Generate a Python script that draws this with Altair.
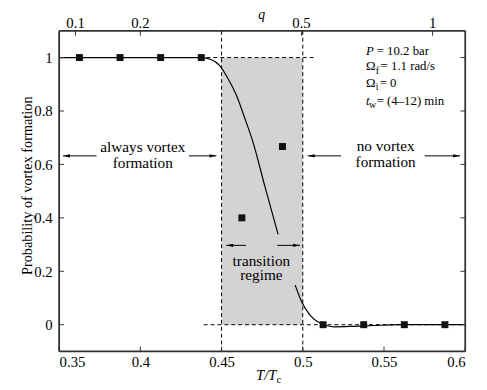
import altair as alt
import pandas as pd

# ---- data ----
t_sq = [0.3625, 0.3875, 0.4125, 0.4375, 0.4625, 0.4875, 0.5125, 0.5375, 0.5625, 0.5875]
p_sq = [1, 1, 1, 1, 0.40, 0.667, 0, 0, 0, 0]

curve_a_t = [0.35, 0.3625, 0.3875, 0.4125, 0.43, 0.4372, 0.4438, 0.4487, 0.4541, 0.4590, 0.4650, 0.4691, 0.4770, 0.4848]
curve_a_p = [1.0, 1.0, 1.0, 1.0, 1.0, 1.0, 0.992, 0.971, 0.920, 0.861, 0.761, 0.688, 0.51, 0.338]
curve_b_t = [0.4953, 0.4993, 0.5043, 0.5103, 0.5195, 0.5316, 0.5437, 0.56, 0.58, 0.6]
curve_b_p = [0.148, 0.086, 0.037, 0.007, -0.008, -0.006, -0.003, 0.0, 0.0, 0.0]

x_ticks = [0.35, 0.4, 0.45, 0.5, 0.55, 0.6]
y_ticks = [0, 0.2, 0.4, 0.6, 0.8, 1]
q_labels = ["0.1", "0.2", "0.5", "1"]
q_pos = [0.3601, 0.4, 0.4992, 0.5799]

band_t = [0.45, 0.5]
band_p = [0, 1]
vdash_t = [0.45, 0.5]
hdash_t1 = [0.4407, 0.439]
hdash_t2 = [0.5078, 0.6]
hdash_p = [1, 0]

arrow_tail = [0.3730, 0.4299, 0.5236, 0.5750, 0.4650, 0.4842]
arrow_tip = [0.3524, 0.4468, 0.5031, 0.5968, 0.4529, 0.4983]
arrow_p = [0.632, 0.632, 0.632, 0.632, 0.297, 0.297]
arrow_dir = ["L", "R", "L", "R", "L", "R"]

note_text = ["always vortex", "formation", "no vortex", "formation", "transition", "regime"]
note_t = [0.4015, 0.4015, 0.5510, 0.5510, 0.4745, 0.4745]
note_p = [0.647, 0.586, 0.651, 0.589, 0.218, 0.166]

leg_main_text = ["P", "Ω", "Ω", "t"]
leg_main_italic = [True, False, False, True]
leg_main_t = [0.5389, 0.5389, 0.5389, 0.5389]
leg_main_p = [1.008, 0.9525, 0.8899, 0.8237]
leg_sub_text = ["f", "i", "w"]
leg_sub_t = [0.5449, 0.5449, 0.5407]
leg_sub_p = [0.9396, 0.8789, 0.8126]
leg_rest_text = ["= 10.2 bar", "= 1.1 rad/s", "= 0", "= (4–12) min"]
leg_rest_t = [0.5455, 0.5479, 0.5473, 0.5455]
leg_rest_p = [1.008, 0.9525, 0.8899, 0.8237]

FONT = "Liberation Serif"
W, H = 413, 326

sx = alt.Scale(domain=[0.35, 0.6], nice=False, zero=False)
sy = alt.Scale(domain=[-0.1, 1.1], nice=False, zero=False)

AX = alt.Axis(values=x_ticks, format=".2~f", labelPadding=3, title=None)
AY = alt.Axis(values=y_ticks, format=".1~f", labelPadding=7,
              title="Probability of vortex formation", titleAngle=270,
              titleX=-28, titleY=157, titleAlign="center", titleBaseline="alphabetic")


def X(f):
    return alt.X(f, type="quantitative", scale=sx, axis=AX)


def Y(f):
    return alt.Y(f, type="quantitative", scale=sy, axis=AY)


sq_df = pd.DataFrame({"t": t_sq, "p": p_sq})
curve_df = pd.concat([
    pd.DataFrame({"t": curve_a_t, "p": curve_a_p, "seg": "a"}),
    pd.DataFrame({"t": curve_b_t, "p": curve_b_p, "seg": "b"}),
])

band = alt.Chart(pd.DataFrame({"t1": [band_t[0]], "t2": [band_t[1]], "p1": [band_p[0]], "p2": [band_p[1]]})).mark_rect(
    color="#d3d3d3").encode(x=X("t1"), x2="t2", y=Y("p1"), y2="p2")

vdash = alt.Chart(pd.DataFrame({"t": vdash_t, "lo": [-0.1, -0.1], "hi": [1.1, 1.1]})).mark_rule(
    color="black", strokeWidth=1, strokeDash=[4, 3]).encode(x=X("t"), y=Y("lo"), y2="hi")

hdash = alt.Chart(pd.DataFrame({"t1": hdash_t1, "t2": hdash_t2, "p": hdash_p})).mark_rule(
    color="black", strokeWidth=1, strokeDash=[4, 3]).encode(x=X("t1"), x2="t2", y=Y("p"))

curve = alt.Chart(curve_df).mark_line(color="black", strokeWidth=1.2, interpolate="monotone").encode(
    x=X("t"), y=Y("p"), detail="seg:N", order="t:Q")

squares = alt.Chart(sq_df).mark_square(color="#111", size=50, opacity=1).encode(x=X("t"), y=Y("p"))

arr_df = pd.DataFrame({"tail": arrow_tail, "tip": arrow_tip, "p": arrow_p, "dir": arrow_dir})
arrow_lines = alt.Chart(arr_df).mark_rule(color="black", strokeWidth=1).encode(x=X("tail"), x2="tip", y=Y("p"))
heads_l = alt.Chart(arr_df[arr_df.dir == "L"]).mark_point(
    shape="M0,0L2,-0.5L2,0.5Z", filled=True, size=49, color="black", opacity=1, strokeWidth=0).encode(
    x=X("tip"), y=Y("p"))
heads_r = alt.Chart(arr_df[arr_df.dir == "R"]).mark_point(
    shape="M0,0L-2,-0.5L-2,0.5Z", filled=True, size=49, color="black", opacity=1, strokeWidth=0).encode(
    x=X("tip"), y=Y("p"))

notes = alt.Chart(pd.DataFrame({"t": note_t, "p": note_p, "txt": note_text})).mark_text(
    font=FONT, fontSize=15.5, color="black", align="center", baseline="alphabetic").encode(
    x=X("t"), y=Y("p"), text="txt:N")

leg_df = pd.DataFrame({"t": leg_main_t, "p": leg_main_p, "txt": leg_main_text, "it": leg_main_italic})
leg_it = alt.Chart(leg_df[leg_df.it]).mark_text(
    font=FONT, fontSize=13, fontStyle="italic", color="black", align="left", baseline="alphabetic").encode(
    x=X("t"), y=Y("p"), text="txt:N")
leg_up = alt.Chart(leg_df[~leg_df.it]).mark_text(
    font=FONT, fontSize=13, color="black", align="left", baseline="alphabetic").encode(
    x=X("t"), y=Y("p"), text="txt:N")
leg_sub = alt.Chart(pd.DataFrame({"t": leg_sub_t, "p": leg_sub_p, "txt": leg_sub_text})).mark_text(
    font=FONT, fontSize=10, color="black", align="left", baseline="alphabetic").encode(
    x=X("t"), y=Y("p"), text="txt:N")
leg_rest = alt.Chart(pd.DataFrame({"t": leg_rest_t, "p": leg_rest_p, "txt": leg_rest_text})).mark_text(
    font=FONT, fontSize=13, color="black", align="left", baseline="alphabetic").encode(
    x=X("t"), y=Y("p"), text="txt:N")

# x-axis title (with subscript) and top (q) axis
xt_main = alt.Chart(pd.DataFrame({"t": [0.4838], "p": [-0.207], "txt": ["T/T"]})).mark_text(
    font=FONT, fontSize=15, fontStyle="italic", color="black", align="right", baseline="alphabetic").encode(
    x=X("t"), y=Y("p"), text="txt:N")
xt_sub = alt.Chart(pd.DataFrame({"t": [0.4838], "p": [-0.218], "txt": ["c"]})).mark_text(
    font=FONT, fontSize=11, color="black", align="left", baseline="alphabetic").encode(
    x=X("t"), y=Y("p"), text="txt:N")
q_title = alt.Chart(pd.DataFrame({"t": [0.4747], "p": [1.1455], "txt": ["q"]})).mark_text(
    font=FONT, fontSize=14, fontStyle="italic", color="black", align="center", baseline="alphabetic").encode(
    x=X("t"), y=Y("p"), text="txt:N")
q_lab = alt.Chart(pd.DataFrame({"t": q_pos, "p": [1.1108] * 4, "txt": q_labels})).mark_text(
    font=FONT, fontSize=15, color="black", align="center", baseline="alphabetic").encode(
    x=X("t"), y=Y("p"), text="txt:N")

# inward ticks and plot frame
tick_c = "#333"
tk_bottom = alt.Chart(pd.DataFrame({"t": x_ticks})).mark_rule(color=tick_c, strokeWidth=1).encode(
    x=X("t"), y=alt.value(H), y2=alt.value(H - 5))
tk_top = alt.Chart(pd.DataFrame({"t": q_pos})).mark_rule(color=tick_c, strokeWidth=1).encode(
    x=X("t"), y=alt.value(0), y2=alt.value(5))
tk_left = alt.Chart(pd.DataFrame({"p": y_ticks})).mark_rule(color=tick_c, strokeWidth=1).encode(
    y=Y("p"), x=alt.value(0), x2=alt.value(5))
tk_right = alt.Chart(pd.DataFrame({"p": y_ticks})).mark_rule(color=tick_c, strokeWidth=1).encode(
    y=Y("p"), x=alt.value(W), x2=alt.value(W - 5))

fr = alt.Chart(pd.DataFrame({"t": [0.35]}))
frame_l = fr.mark_rule(color=tick_c, strokeWidth=1.8).encode(x=alt.value(0), y=alt.value(0), y2=alt.value(H))
frame_r = fr.mark_rule(color=tick_c, strokeWidth=1.8).encode(x=alt.value(W), y=alt.value(0), y2=alt.value(H))
frame_t = fr.mark_rule(color=tick_c, strokeWidth=1.8).encode(y=alt.value(0), x=alt.value(0), x2=alt.value(W))
frame_b = fr.mark_rule(color=tick_c, strokeWidth=1.8).encode(y=alt.value(H), x=alt.value(0), x2=alt.value(W))

chart = alt.layer(
    band, vdash, hdash, curve, squares, arrow_lines, heads_l, heads_r, notes,
    leg_it, leg_up, leg_sub, leg_rest, xt_main, xt_sub, q_title, q_lab,
    tk_bottom, tk_top, tk_left, tk_right, frame_l, frame_r, frame_t, frame_b,
).properties(
    width=W, height=H,
    autosize=alt.AutoSizeParams(type="none"),
    padding={"left": 52, "top": 20, "right": 14, "bottom": 36},
    background="white",
).configure_view(stroke=None).configure_axis(
    ticks=False, domain=False, grid=False,
    labelFont=FONT, labelFontSize=15, labelColor="black",
    titleFont=FONT, titleFontSize=14.5, titleFontWeight="normal", titleColor="black",
)

chart.save("out.html", embed_options={"renderer": "svg", "actions": False})
